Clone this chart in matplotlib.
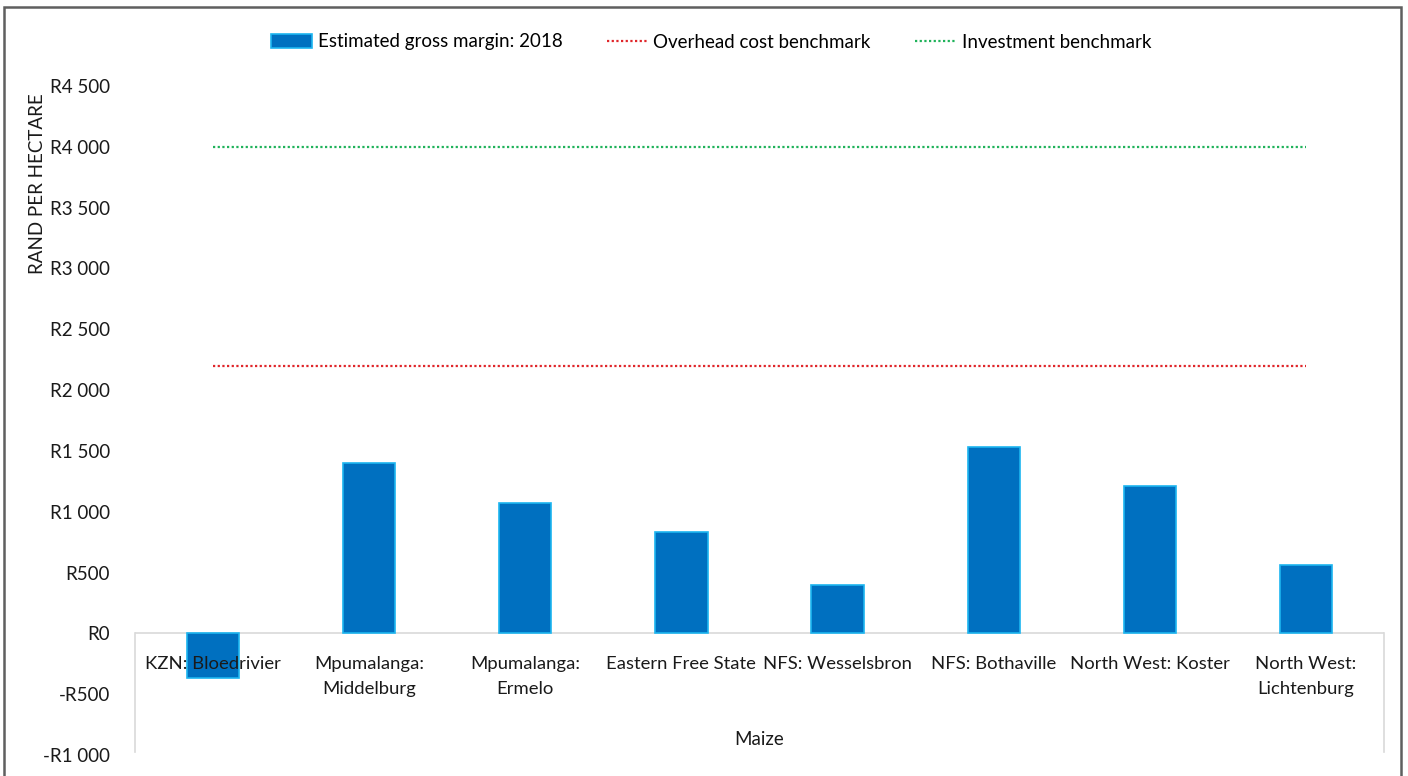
import numpy as np
import matplotlib.pyplot as plt
from matplotlib.patches import Rectangle
from matplotlib.ticker import FuncFormatter

plt.rcParams['font.family'] = ['Lato', 'DejaVu Sans']

# Maize gross margins per region (R/ha)
regioes = ['KZN: Bloedrivier', 'Mpumalanga:\nMiddelburg', 'Mpumalanga:\nErmelo',
           'Eastern Free State', 'NFS: Wesselsbron', 'NFS: Bothaville',
           'North West: Koster', 'North West:\nLichtenburg']
margem_2018 = [-370, 1400, 1070, 830, 400, 1530, 1210, 565]
custo_fixo = [2200] * len(regioes)
investimento = [4000] * len(regioes)
y_ticks = [-1000, -500, 0, 500, 1000, 1500, 2000, 2500, 3000, 3500, 4000, 4500]

def rand_fmt(v, pos):
    v = int(round(v))
    s = f"{abs(v):,}".replace(',', ' ')
    return ('-' if v < 0 else '') + 'R' + s

fig = plt.figure(figsize=(14.08, 7.76), dpi=100)
ax = fig.add_axes([135 / 1408, 21 / 776, (1384 - 135) / 1408, (755 - 86) / 776])

x = np.arange(len(regioes))
barras = ax.bar(x, margem_2018, width=0.335, color='#0070C0', edgecolor='#1CB5F0',
                linewidth=1.2, label='Estimated gross margin: 2018', zorder=1.2)
l_custo, = ax.plot(x, custo_fixo, color='#E0262A', linestyle=(0, (1, 1.1)), linewidth=1.6,
                   label='Overhead cost benchmark', zorder=3)
l_inv, = ax.plot(x, investimento, color='#1FB25A', linestyle=(0, (1, 1.1)), linewidth=1.6,
                 label='Investment benchmark', zorder=3)

ax.set_xlim(-0.5, 7.5)
ax.set_ylim(-1000, 4500)
ax.set_yticks(y_ticks)
ax.yaxis.set_major_formatter(FuncFormatter(rand_fmt))

# category labels hang from the zero line, drawn over the bars
ax.set_axisbelow(False)
ax.spines['bottom'].set_position(('data', 0))
ax.set_xticks(x)
ax.set_xticklabels(regioes, fontsize=13.3, color='#1a1a1a', linespacing=1.7)
ax.tick_params(axis='x', length=0, pad=16)
ax.tick_params(axis='y', length=0, pad=18, labelsize=13.5, labelcolor='#1a1a1a')

for s in ax.spines.values():
    s.set_visible(False)

# category axis box
ax.axhline(0, color='#D9D9D9', linewidth=1.2, zorder=1)
for xb in (-0.5, 7.5):
    ax.plot([xb, xb], [0, -975], color='#D9D9D9', linewidth=1.2, clip_on=False, zorder=1)

ax.text(3.5, -870, 'Maize', ha='center', va='center', fontsize=13.5, color='#1a1a1a')

fig.text(38 / 1408, 1 - 184 / 776, 'RAND PER HECTARE', rotation=90, ha='center',
         va='center', fontsize=13.5, color='#1a1a1a')

fig.legend([barras, l_custo, l_inv],
           ['Estimated gross margin: 2018', 'Overhead cost benchmark', 'Investment benchmark'],
           loc='center', bbox_to_anchor=(0.505, 1 - 42 / 776), ncol=3, frameon=False,
           fontsize=13.5, handlelength=2.2, handleheight=0.8, handletextpad=0.3,
           columnspacing=2.35)

# chart border
fig.patches.append(Rectangle((4 / 1408, -0.05), (1401 - 4) / 1408, 1 - 7 / 776 + 0.05,
                             transform=fig.transFigure, fill=False,
                             edgecolor='#5F5F5F', linewidth=1.8))

fig.savefig('out.png', dpi=100)
